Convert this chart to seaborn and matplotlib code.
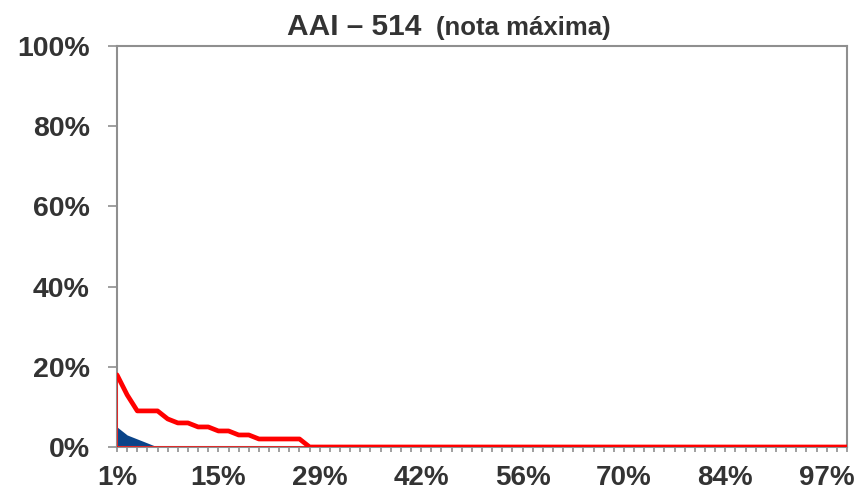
import numpy as np
import matplotlib
matplotlib.use("Agg")
from matplotlib import pyplot as plt
import seaborn as sns

# 73 categories, share of students (cumulative %) on x
n_cat = 73
x_idx = np.arange(n_cat)
x_labels = [f"{round((i + 1) / n_cat * 100)}%" for i in x_idx]

# red line: values (%), zero afterwards
red_vals = [18, 13, 9, 9, 9, 7, 6, 6, 5, 5, 4, 4, 3, 3, 2, 2, 2, 2, 2] + [0] * (n_cat - 19)
# blue area (%)
blue_vals = [5, 3, 2, 1, 0] + [0] * (n_cat - 5)

y_ticks = [0, 20, 40, 60, 80, 100]

sns.set_style("white")
plt.rcParams['font.family'] = ['Liberation Sans', 'DejaVu Sans']
txt_color = "#333333"
axis_gray = "#8f8f8f"

fig = plt.figure(figsize=(8.58, 4.94), dpi=100)
ax = fig.add_axes([117 / 858, 1 - 447 / 494, 730 / 858, 401 / 494])

ax.fill_between(x_idx, blue_vals, color="#0a4489", lw=0, zorder=2)
ax.fill_between(x_idx, red_vals, facecolor="none", edgecolor="#ff0000", lw=1.0, zorder=3)
sns.lineplot(x=x_idx, y=red_vals, color="#ff0000", lw=3.4, ax=ax, zorder=4)

ax.set_xlim(0, n_cat - 1)
ax.set_ylim(0, 100)

ax.set_xticks(x_idx)
ax.set_xticklabels([lab if i % 10 == 0 else "" for i, lab in enumerate(x_labels)])
ax.set_yticks(y_ticks)
ax.set_yticklabels([f"{v}%" for v in y_ticks])

for lab in ax.get_xticklabels() + ax.get_yticklabels():
    lab.set_fontweight("bold")
    lab.set_color(txt_color)
ax.tick_params(axis="x", labelsize=20, length=3.8, width=1.2, color=axis_gray,
               direction="out", pad=9, bottom=True)
ax.tick_params(axis="y", labelsize=20.5, length=6.5, width=1.2, color=axis_gray,
               direction="out", pad=13, left=True)

for s in ax.spines.values():
    s.set_color(axis_gray)
    s.set_linewidth(1.5)

ax.set_xlabel("")
ax.set_ylabel("")

fig.text(287 / 858, 1 - 35 / 494, "AAI \u2013 514", fontsize=21.5, fontweight="bold",
         color=txt_color, ha="left", va="baseline")
fig.text(436 / 858, 1 - 35 / 494, "(nota máxima)", fontsize=18.5, fontweight="bold",
         color=txt_color, ha="left", va="baseline")

fig.savefig("out.png", dpi=100)
